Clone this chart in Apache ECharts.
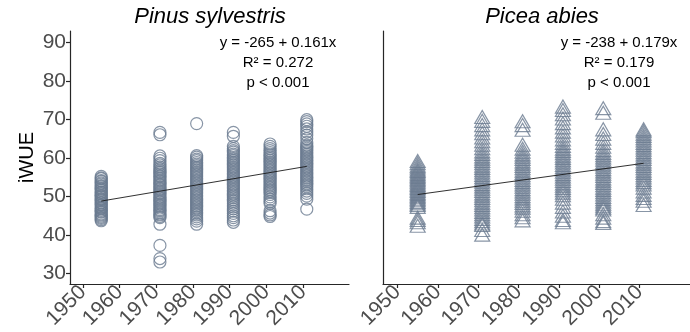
<!DOCTYPE html>
<html>
<head>
<meta charset="utf-8">
<script src="https://cdn.jsdelivr.net/npm/echarts@6/dist/echarts.min.js"></script>
<style>
  html, body { margin: 0; padding: 0; background: #ffffff; }
  #chart { width: 690px; height: 332px; }
</style>
</head>
<body>
<div id="chart"></div>
<script>
// Sampling years shared by both species
const years = [1955, 1971, 1981, 1991, 2001, 2011];

// iWUE per tree, Pinus sylvestris
const pinus1955 = [55.2, 54.8, 54.6, 54.1, 53.9, 53.5, 53.2, 52.8, 52.6, 52.2, 51.9, 51.6, 51.2, 51.0, 50.7, 50.3, 50.1, 49.8, 49.4, 49.2, 48.9, 48.5, 48.3, 47.9, 47.7, 47.3, 47.0, 46.8, 46.4, 46.1, 45.9, 45.5, 45.2, 44.9, 44.6, 44.3, 44.0, 43.7];
const pinus1971 = [66.6, 66.0, 60.5, 59.9, 59.3, 58.6, 58.2, 57.7, 57.3, 56.9, 56.5, 56.2, 55.8, 55.4, 55.1, 54.7, 54.3, 54.0, 53.6, 53.2, 52.9, 52.5, 52.1, 51.8, 51.4, 51.0, 50.7, 50.3, 49.9, 49.6, 49.2, 48.8, 48.5, 48.1, 47.7, 47.4, 47.0, 46.6, 46.3, 45.9, 45.5, 45.2, 44.8, 44.5, 42.8, 37.3, 33.9, 33.0];
const pinus1981 = [68.9, 60.6, 60.2, 59.7, 59.3, 58.8, 58.4, 58.0, 57.6, 57.2, 56.8, 56.4, 56.0, 55.6, 55.2, 54.8, 54.4, 54.0, 53.6, 53.2, 52.8, 52.4, 52.0, 51.6, 51.2, 50.8, 50.4, 50.0, 49.6, 49.2, 48.8, 48.4, 48.0, 47.6, 47.2, 46.8, 46.4, 46.0, 45.6, 45.2, 44.7, 44.2, 43.6, 42.8];
const pinus1991 = [66.6, 65.6, 63.0, 62.4, 61.9, 61.5, 61.0, 60.6, 60.1, 59.7, 59.3, 58.9, 58.5, 58.1, 57.7, 57.3, 56.9, 56.5, 56.1, 55.7, 55.3, 54.9, 54.5, 54.1, 53.7, 53.3, 52.9, 52.5, 52.1, 51.7, 51.3, 50.9, 50.5, 50.1, 49.7, 49.2, 48.8, 48.3, 47.8, 47.3, 46.8, 46.2, 45.6, 45.0, 44.5, 43.9, 43.3];
const pinus2001 = [63.6, 63.0, 62.4, 61.9, 61.4, 61.0, 60.6, 60.2, 59.8, 59.4, 59.0, 58.6, 58.2, 57.8, 57.4, 57.0, 56.6, 56.2, 55.8, 55.4, 55.0, 54.6, 54.2, 53.8, 53.4, 53.0, 52.6, 52.2, 51.8, 51.4, 51.0, 50.5, 49.9, 49.3, 48.7, 48.2, 46.3, 45.7, 45.2, 44.8];
const pinus2011 = [69.9, 69.4, 68.8, 68.2, 67.5, 66.7, 65.9, 65.0, 64.0, 63.3, 62.9, 62.5, 62.1, 61.7, 61.3, 60.9, 60.5, 60.1, 59.7, 59.3, 58.9, 58.5, 58.1, 57.7, 57.3, 56.9, 56.5, 56.1, 55.7, 55.3, 54.9, 54.5, 54.1, 53.7, 53.3, 52.9, 52.5, 52.0, 51.4, 50.8, 50.1, 49.3, 46.7];

// iWUE per tree, Picea abies
const picea1955 = [59.2, 58.6, 58.0, 57.5, 57.0, 56.6, 56.2, 55.8, 55.4, 55.0, 54.6, 54.2, 53.8, 53.4, 53.0, 52.6, 52.2, 51.8, 51.4, 51.0, 50.6, 50.2, 49.8, 49.4, 49.0, 48.6, 48.2, 47.8, 47.3, 44.5, 43.9, 43.3, 42.4];
const picea1971 = [70.6, 69.6, 68.5, 67.4, 66.4, 65.3, 64.3, 63.4, 62.5, 61.7, 61.0, 60.4, 59.8, 59.2, 58.6, 58.0, 57.4, 56.8, 56.2, 55.6, 55.0, 54.4, 53.8, 53.2, 52.6, 52.0, 51.4, 50.8, 50.2, 49.6, 49.0, 48.4, 47.8, 47.2, 46.6, 46.0, 45.4, 44.8, 44.2, 43.6, 43.0, 42.6, 41.3, 40.1];
const picea1981 = [69.5, 68.5, 67.3, 63.4, 62.4, 61.6, 60.9, 60.3, 59.7, 59.1, 58.5, 57.9, 57.3, 56.7, 56.1, 55.5, 54.9, 54.3, 53.7, 53.1, 52.5, 51.9, 51.3, 50.7, 50.1, 49.5, 48.9, 48.3, 47.7, 47.1, 46.3, 45.4, 44.6, 43.8];
const picea1991 = [73.3, 72.4, 71.3, 70.2, 69.0, 67.9, 66.8, 65.8, 64.8, 63.9, 63.1, 62.4, 61.8, 61.2, 60.6, 60.0, 59.4, 58.8, 58.2, 57.6, 57.0, 56.4, 55.8, 55.2, 54.6, 54.0, 53.4, 52.8, 52.2, 51.6, 51.0, 50.3, 49.4, 48.4, 47.3, 46.1, 45.0, 43.9, 43.3];
const picea2001 = [72.9, 71.7, 67.4, 66.2, 65.0, 63.9, 62.9, 62.0, 61.3, 60.7, 60.1, 59.5, 58.9, 58.3, 57.7, 57.1, 56.5, 55.9, 55.3, 54.7, 54.1, 53.5, 52.9, 52.3, 51.7, 51.1, 50.5, 49.9, 49.3, 48.7, 48.1, 47.6, 47.1, 46.6, 45.4, 44.5, 43.6, 43.1];
const picea2011 = [67.4, 66.9, 66.3, 65.7, 65.1, 64.5, 63.9, 63.3, 62.7, 62.1, 61.5, 60.9, 60.3, 59.7, 59.1, 58.5, 57.9, 57.3, 56.7, 56.1, 55.5, 54.9, 54.3, 53.7, 53.1, 52.3, 51.3, 50.4, 49.6, 48.9, 47.8];

// Fitted trend lines (year, iWUE) at the first and last sampling year
const pinusFit = [[1955, 48.8], [2011, 57.8]];
const piceaFit = [[1955, 50.5], [2011, 58.6]];

// Axis ticks
const xTicks = [1950, 1960, 1970, 1980, 1990, 2000, 2010];
const yTicks = [30, 40, 50, 60, 70, 80, 90];

const pinusByYear = [pinus1955, pinus1971, pinus1981, pinus1991, pinus2001, pinus2011];
const piceaByYear = [picea1955, picea1971, picea1981, picea1991, picea2001, picea2011];

function toPoints(groups) {
  const out = [];
  groups.forEach((vals, i) => vals.forEach(v => out.push([years[i], v])));
  return out;
}

const markColor = '#6a7a90';
const axisColor = '#262626';
const labelColor = '#4d4d4d';
const fontFamily = '"Liberation Sans", Arial, Helvetica, sans-serif';

function xAxisDef(gridIndex, min, max) {
  return {
    type: 'value', gridIndex, min, max,
    splitLine: { show: false },
    axisLine: { show: true, onZero: false, lineStyle: { color: axisColor, width: 1.2 } },
    axisTick: { show: true, length: 4, customValues: xTicks, lineStyle: { color: axisColor, width: 1.2 } },
    axisLabel: {
      show: true, customValues: xTicks, rotate: 45, margin: 5,
      formatter: v => String(v),
      color: labelColor, fontSize: 21, fontFamily
    }
  };
}

function yAxisDef(gridIndex, showLabels) {
  return {
    type: 'value', gridIndex, min: 27.3, max: 92.9,
    splitLine: { show: false },
    axisLine: { show: true, onZero: false, lineStyle: { color: axisColor, width: 1.2 } },
    axisTick: { show: showLabels, length: 4, customValues: yTicks, lineStyle: { color: axisColor, width: 1.2 } },
    axisLabel: {
      show: showLabels, customValues: yTicks, margin: 4,
      formatter: v => String(v),
      color: labelColor, fontSize: 21, fontFamily
    },
    name: showLabels ? 'iWUE' : '',
    nameLocation: 'middle',
    nameGap: 33,
    nameRotate: 90,
    nameTextStyle: { color: '#000', fontSize: 20, fontFamily }
  };
}

const chart = echarts.init(document.getElementById('chart'), null, { renderer: 'canvas' });

chart.setOption({
  animation: false,
  backgroundColor: '#ffffff',
  grid: [
    { left: 70, top: 31, width: 279, height: 253 },
    { left: 383, top: 31, width: 318, height: 253 }
  ],
  xAxis: [xAxisDef(0, 1946.5, 2022.5), xAxisDef(1, 1946.4, 2022.5)],
  yAxis: [yAxisDef(0, true), yAxisDef(1, false)],
  graphic: [
    { type: 'text', x: 210, y: 17, style: { text: 'Pinus sylvestris', align: 'center', verticalAlign: 'middle', fill: '#000', font: 'italic 22px ' + fontFamily } },
    { type: 'text', x: 542, y: 17, style: { text: 'Picea abies', align: 'center', verticalAlign: 'middle', fill: '#000', font: 'italic 22px ' + fontFamily } },
    { type: 'text', x: 278, y: 33, style: { text: 'y = -265 + 0.161x\nR² = 0.272\np < 0.001', align: 'center', verticalAlign: 'top', lineHeight: 20, fill: '#000', font: '15px ' + fontFamily } },
    { type: 'text', x: 619, y: 33, style: { text: 'y = -238 + 0.179x\nR² = 0.179\np < 0.001', align: 'center', verticalAlign: 'top', lineHeight: 20, fill: '#000', font: '15px ' + fontFamily } }
  ],
  series: [
    {
      type: 'scatter', xAxisIndex: 0, yAxisIndex: 0,
      data: toPoints(pinusByYear),
      symbol: 'circle', symbolSize: 12,
      itemStyle: { color: 'rgba(0,0,0,0)', borderColor: markColor, borderWidth: 1.2 },
      z: 2
    },
    {
      type: 'scatter', xAxisIndex: 1, yAxisIndex: 1,
      data: toPoints(piceaByYear),
      symbol: 'triangle', symbolSize: [15, 13],
      itemStyle: { color: 'rgba(0,0,0,0)', borderColor: markColor, borderWidth: 1.2 },
      z: 2
    },
    {
      type: 'line', xAxisIndex: 0, yAxisIndex: 0, data: pinusFit,
      symbol: 'none', lineStyle: { color: '#1a1a1a', width: 0.9 }, z: 3
    },
    {
      type: 'line', xAxisIndex: 1, yAxisIndex: 1, data: piceaFit,
      symbol: 'none', lineStyle: { color: '#1a1a1a', width: 0.9 }, z: 3
    }
  ]
});
</script>
</body>
</html>
